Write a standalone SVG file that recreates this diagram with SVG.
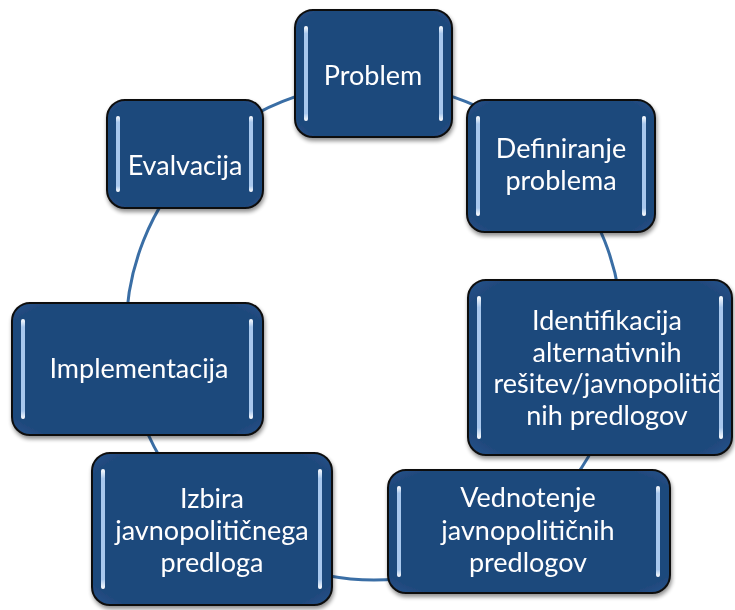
<svg xmlns="http://www.w3.org/2000/svg" width="735" height="610" viewBox="0 0 735 610">
<defs>
<filter id="sh" x="-10%" y="-10%" width="125%" height="130%">
<feGaussianBlur in="SourceAlpha" stdDeviation="2"/>
<feOffset dx="1" dy="3" result="b"/>
<feComponentTransfer><feFuncA type="linear" slope="0.45"/></feComponentTransfer>
<feMerge><feMergeNode/><feMergeNode in="SourceGraphic"/></feMerge>
</filter>
<linearGradient id="bar" x1="0" y1="0" x2="0" y2="1">
<stop offset="0" stop-color="#ffffff"/>
<stop offset="0.08" stop-color="#a8c8ee"/>
<stop offset="0.92" stop-color="#a8c8ee"/>
<stop offset="1" stop-color="#ffffff"/>
</linearGradient>
<radialGradient id="fill" cx="0.5" cy="0.5" r="0.72">
<stop offset="0.85" stop-color="#1f487c"/>
<stop offset="1" stop-color="#2a5790"/>
</radialGradient>
</defs>
<style>
.box{fill:url(#fill);stroke:#111;stroke-width:2}
.bar{fill:url(#bar)}
.lbl{font-family:Lato,"Open Sans","Liberation Sans",sans-serif;font-size:27px;fill:#fff;text-anchor:middle}
.con{fill:none;stroke:#3a6ea5;stroke-width:3}
</style>
<rect width="735" height="610" fill="#fff"/>
<g id="connectors">
<circle class="con" cx="374" cy="332" r="248"/>
</g>
<g id="problem" filter="url(#sh)">
<rect class="box" x="295" y="10" width="157" height="127" rx="18"/>
<rect class="bar" x="304" y="26" width="4" height="95" rx="2"/>
<rect class="bar" x="439" y="26" width="4" height="95" rx="2"/>
<text class="lbl" x="373" y="85">Problem</text>
</g>
<g id="definiranje" filter="url(#sh)">
<rect class="box" x="467" y="100" width="188" height="132" rx="18"/>
<rect class="bar" x="476" y="116" width="4" height="100" rx="2"/>
<rect class="bar" x="642" y="116" width="4" height="100" rx="2"/>
<text class="lbl" x="561" y="158">Definiranje</text>
<text class="lbl" x="561" y="190">problema</text>
</g>
<g id="identifikacija" filter="url(#sh)">
<rect class="box" x="468" y="280" width="264" height="175" rx="18"/>
<rect class="bar" x="477" y="296" width="4" height="143" rx="2"/>
<rect class="bar" x="719" y="296" width="4" height="143" rx="2"/>
<text class="lbl" x="607" y="330">Identifikacija</text>
<text class="lbl" x="607" y="362">alternativnih</text>
<text class="lbl" x="607" y="393">rešitev/javnopolitič</text>
<text class="lbl" x="607" y="425">nih predlogov</text>
</g>
<g id="vednotenje" filter="url(#sh)">
<rect class="box" x="388" y="470" width="282" height="123" rx="18"/>
<rect class="bar" x="397" y="486" width="4" height="91" rx="2"/>
<rect class="bar" x="656" y="486" width="4" height="91" rx="2"/>
<text class="lbl" x="528" y="507">Vednotenje</text>
<text class="lbl" x="528" y="540">javnopolitičnih</text>
<text class="lbl" x="528" y="572">predlogov</text>
</g>
<g id="izbira" filter="url(#sh)">
<rect class="box" x="92" y="453" width="240" height="152" rx="18"/>
<rect class="bar" x="101" y="469" width="4" height="120" rx="2"/>
<rect class="bar" x="318" y="469" width="4" height="120" rx="2"/>
<text class="lbl" x="212" y="508">Izbira</text>
<text class="lbl" x="212" y="540">javnopolitičnega</text>
<text class="lbl" x="212" y="572">predloga</text>
</g>
<g id="implementacija" filter="url(#sh)">
<rect class="box" x="12" y="303" width="251" height="132" rx="18"/>
<rect class="bar" x="21" y="319" width="4" height="100" rx="2"/>
<rect class="bar" x="249" y="319" width="4" height="100" rx="2"/>
<text class="lbl" x="139" y="378">Implementacija</text>
</g>
<g id="evalvacija" filter="url(#sh)">
<rect class="box" x="107" y="100" width="156" height="108" rx="18"/>
<rect class="bar" x="116" y="116" width="4" height="76" rx="2"/>
<rect class="bar" x="249" y="116" width="4" height="76" rx="2"/>
<text class="lbl" x="185" y="175">Evalvacija</text>
</g>
</svg>
